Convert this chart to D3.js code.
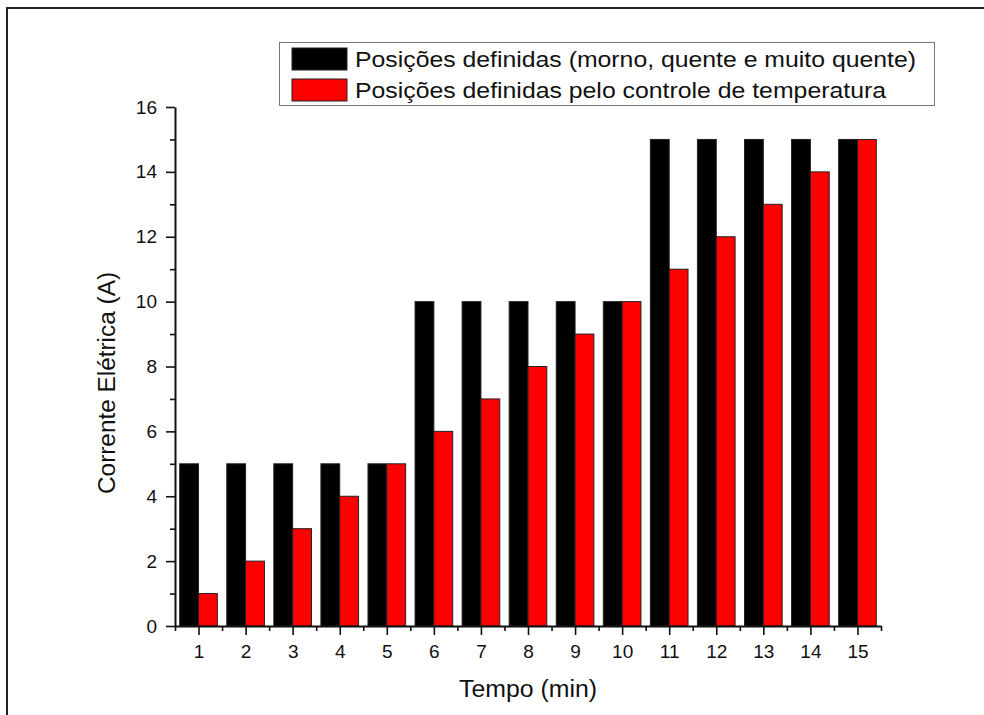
<!DOCTYPE html>
<html>
<head>
<meta charset="utf-8">
<script src="https://cdn.jsdelivr.net/npm/d3@7"></script>
<style>
  body { margin: 0; background: #fff; }
  svg text { font-family: "Liberation Sans", Arial, sans-serif; fill: #111; }
</style>
</head>
<body>
<div id="chart"></div>
<script>
// data
const minutes = [1, 2, 3, 4, 5, 6, 7, 8, 9, 10, 11, 12, 13, 14, 15];
const fixedPositions = [5, 5, 5, 5, 5, 10, 10, 10, 10, 10, 15, 15, 15, 15, 15];
const tempControl = [1, 2, 3, 4, 5, 6, 7, 8, 9, 10, 11, 12, 13, 14, 15];
const seriesNames = [
    'Posições definidas (morno, quente e muito quente)',
    'Posições definidas pelo controle de temperatura'
];
const seriesColors = ['#000000', '#ff0000'];
const yMajorTicks = [0, 2, 4, 6, 8, 10, 12, 14, 16];
const yMinorTicks = [1, 3, 5, 7, 9, 11, 13, 15];

const width = 984;
const height = 715;
const margin = { top: 107, right: 103, bottom: 89, left: 175 };

const svg = d3.select('#chart')
    .append('svg')
    .attr('width', width)
    .attr('height', height);

// outer frame (right and bottom edges fall outside the picture)
svg.append('rect')
    .attr('x', 7)
    .attr('y', 8)
    .attr('width', 1000)
    .attr('height', 800)
    .attr('fill', '#fff')
    .attr('stroke', '#222')
    .attr('stroke-width', 2);

const x = d3.scaleLinear()
    .domain([0.5, 15.5])
    .range([margin.left, width - margin.right]);

const y = d3.scaleLinear()
    .domain([0, 16])
    .range([height - margin.bottom, margin.top]);

const barW = x(1.4) - x(1);

// bars
const bars = svg.append('g').attr('class', 'bars');

bars.selectAll('.black')
    .data(minutes)
    .join('rect')
    .attr('class', 'black')
    .attr('x', (d) => x(d) - barW)
    .attr('y', (d, i) => y(fixedPositions[i]))
    .attr('width', barW)
    .attr('height', (d, i) => y(0) - y(fixedPositions[i]))
    .attr('fill', seriesColors[0])
    .attr('stroke', '#222')
    .attr('stroke-width', 1);

bars.selectAll('.red')
    .data(minutes)
    .join('rect')
    .attr('class', 'red')
    .attr('x', (d) => x(d))
    .attr('y', (d, i) => y(tempControl[i]))
    .attr('width', barW)
    .attr('height', (d, i) => y(0) - y(tempControl[i]))
    .attr('fill', seriesColors[1])
    .attr('stroke', '#222')
    .attr('stroke-width', 1);

// y axis
svg.append('g')
    .attr('transform', `translate(${margin.left},0)`)
    .call(d3.axisLeft(y).tickValues(yMajorTicks).tickSize(9).tickSizeOuter(0).tickPadding(9));

svg.append('g')
    .attr('transform', `translate(${margin.left},0)`)
    .call(d3.axisLeft(y).tickValues(yMinorTicks).tickSize(5).tickSizeOuter(0).tickFormat(''))
    .select('.domain').remove();

// x axis
svg.append('g')
    .attr('transform', `translate(0,${y(0)})`)
    .call(d3.axisBottom(x).tickValues(minutes).tickSize(9).tickSizeOuter(0).tickPadding(10));

svg.append('g')
    .attr('transform', `translate(0,${y(0)})`)
    .call(d3.axisBottom(x).tickValues(minutes.map((m) => m - 0.5).concat([15.5])).tickSize(5).tickSizeOuter(0).tickFormat(''))
    .select('.domain').remove();

svg.selectAll('.domain').attr('stroke', '#111').attr('stroke-width', 2);
svg.selectAll('.tick line').attr('stroke', '#111').attr('stroke-width', 1.6);
svg.selectAll('.tick text')
    .attr('font-size', 19)
    .attr('fill', '#111')
    .style('font-family', '"Liberation Sans", Arial, sans-serif');

// axis titles
svg.append('text')
    .attr('x', (x.range()[0] + x.range()[1]) / 2)
    .attr('y', 697)
    .attr('text-anchor', 'middle')
    .attr('font-size', 23)
    .attr('textLength', 138)
    .attr('lengthAdjust', 'spacingAndGlyphs')
    .text('Tempo (min)');

svg.append('text')
    .attr('transform', 'translate(115,383) rotate(-90)')
    .attr('text-anchor', 'middle')
    .attr('font-size', 23)
    .attr('textLength', 222)
    .attr('lengthAdjust', 'spacingAndGlyphs')
    .text('Corrente Elétrica (A)');

// legend
const legend = svg.append('g').attr('class', 'legend');

legend.append('rect')
    .attr('x', 279.5)
    .attr('y', 42.5)
    .attr('width', 655)
    .attr('height', 63)
    .attr('fill', '#fff')
    .attr('stroke', '#777')
    .attr('stroke-width', 1);

const legendWidths = [561, 531];

seriesNames.forEach((name, i) => {
    const rowY = 48 + i * 31;
    legend.append('rect')
        .attr('x', 292)
        .attr('y', rowY)
        .attr('width', 55)
        .attr('height', 22)
        .attr('fill', seriesColors[i])
        .attr('stroke', '#222')
        .attr('stroke-width', 1);
    legend.append('text')
        .attr('x', 355)
        .attr('y', rowY + 19)
        .attr('font-size', 22)
        .attr('textLength', legendWidths[i])
        .attr('lengthAdjust', 'spacingAndGlyphs')
        .text(name);
});
</script>
</body>
</html>
